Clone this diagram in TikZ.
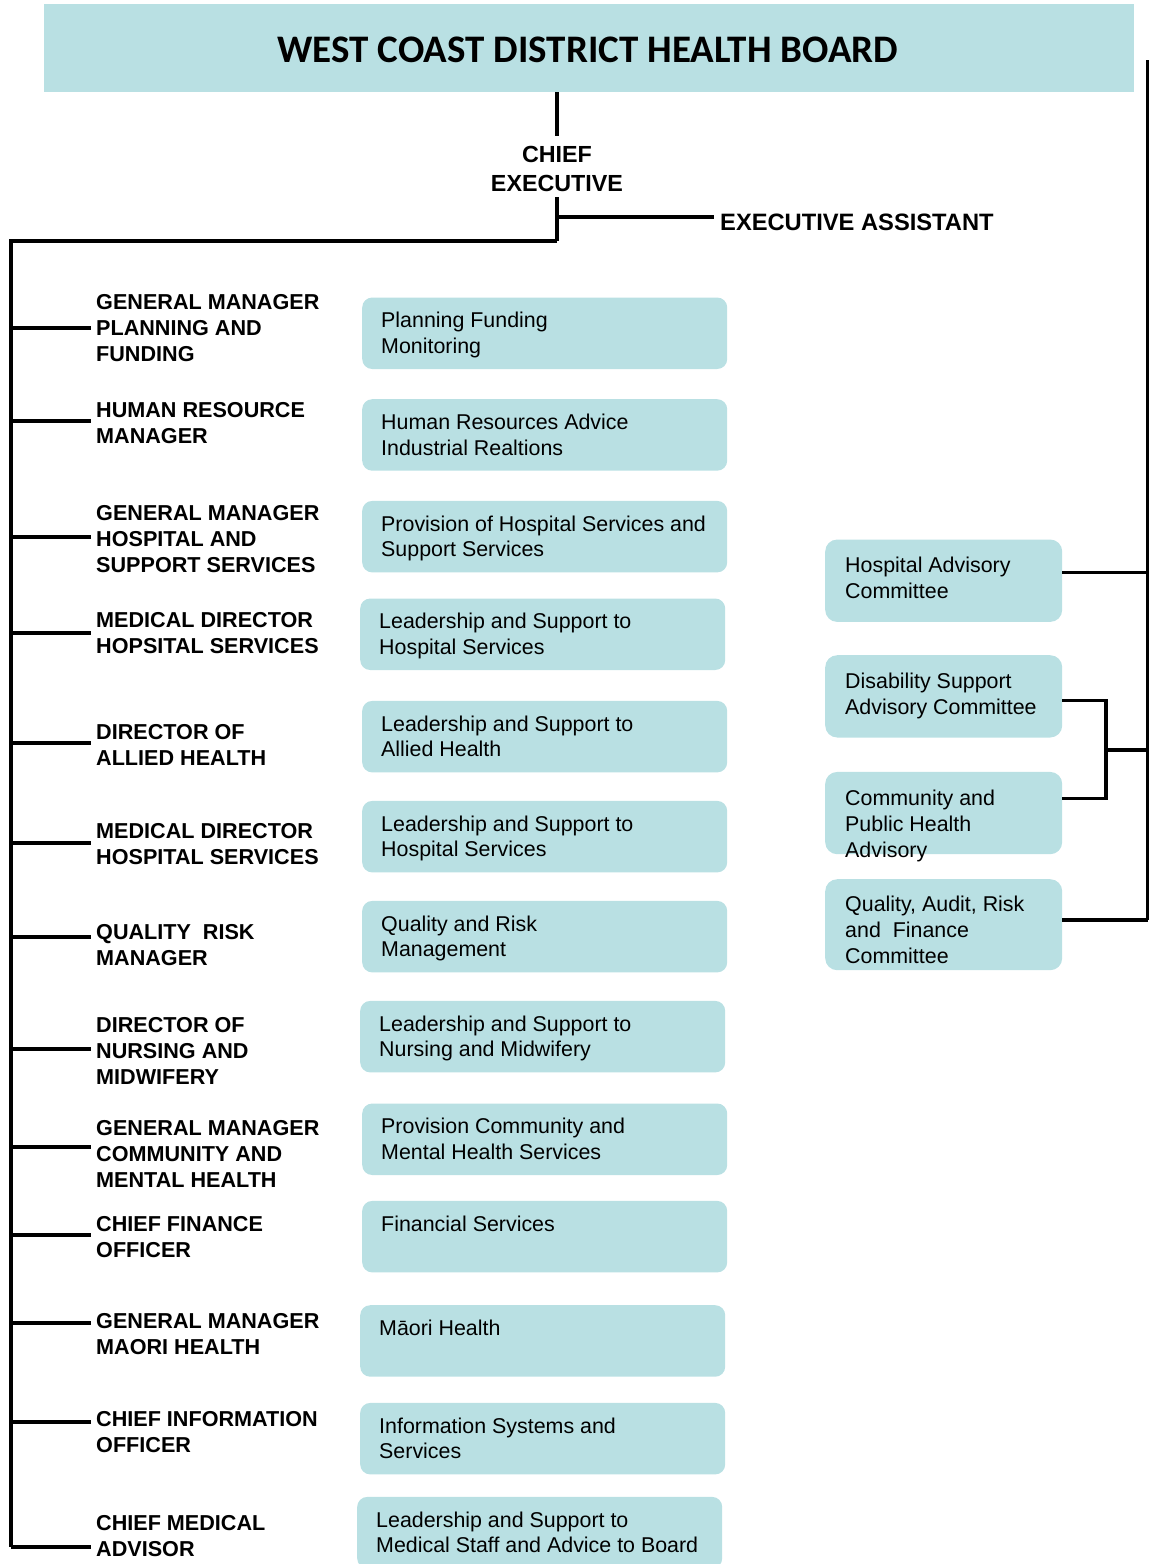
\documentclass[tikz,border=0pt]{standalone}
\usepackage{fontspec}
\setmainfont{Liberation Sans}
\newfontfamily\titlefont{Carlito}
\definecolor{boxfill}{RGB}{185,224,227}
\newcommand\ml[1]{\begin{tabular}[t]{@{}l@{}}#1\end{tabular}}
\newcommand\mlc[1]{\begin{tabular}[t]{@{}c@{}}#1\end{tabular}}
\tikzset{
  svc/.style={fill=boxfill, rounded corners=10pt, inner sep=0pt, anchor=north west,
    minimum width=365pt, minimum height=71.5pt},
  com/.style={fill=boxfill, rounded corners=12pt, inner sep=0pt, anchor=north west,
    minimum width=237pt},
  svctext/.style={anchor=base west, inner sep=0pt, font=\fontsize{21.4}{25.5}\selectfont},
  comtext/.style={anchor=base west, inner sep=0pt, font=\fontsize{21.4}{26}\selectfont},
  lbl/.style={anchor=base west, inner sep=0pt, font=\bfseries\fontsize{21.6}{26}\selectfont},
  wire/.style={line width=3.5pt},
  branch/.style={line width=4pt},
  cwire/.style={line width=3.5pt},
  rwire/.style={line width=2.3pt},
}
\newcommand\svcbox[4]{%
  \node[svc] (#1) at (#2,#3) {};
  \node[svctext] (#1t) at ([xshift=19pt,yshift=-30.5pt]#1.north west) {\ml{#4}};}
\newcommand\role[4]{%
  \coordinate (#1b) at (91,#3);
  \draw[branch] (trunkTop |- #1b) -- (#1b);
  \node[lbl] (#1) at (96,#2) {\ml{#4}};}
\begin{document}
\begin{tikzpicture}[x=1pt,y=-1pt]
\useasboundingbox (0,0) rectangle (1149,1564);
% board
\node[fill=boxfill, anchor=north west, inner sep=0pt, minimum width=1090pt, minimum height=88pt] (board) at (44,4) {};
\node[anchor=base, inner sep=0pt, font=\titlefont\bfseries\fontsize{39}{44}\selectfont] (title) at (588,62) {WEST COAST DISTRICT HEALTH BOARD};
% chief executive
\node[anchor=base, inner sep=0pt, font=\bfseries\fontsize{23.3}{29}\selectfont] (ce) at (557,162.7) {\mlc{CHIEF\\EXECUTIVE}};
\node[anchor=base west, inner sep=0pt, font=\bfseries\fontsize{23.7}{27}\selectfont] (ea) at (720,230) {EXECUTIVE ASSISTANT};
\coordinate (ceTop) at (557,136);
\coordinate (ceBot) at (557,197);
\coordinate (eaJ) at (557,216.5);
\coordinate (hub) at (557,241);
\coordinate (trunkTop) at (11,241);
\coordinate (trunkBot) at (11,1546.7);
\draw[wire] (board.south -| ceTop) -- (ceTop);
\draw[wire] (ceBot) -- (hub);
\draw[branch] (eaJ) -- ([xshift=-6pt]ea.west |- eaJ);
\draw[wire] (hub) -- (trunkTop) -- (trunkBot);
% roles
\role{r1}{309.3}{328}{GENERAL MANAGER\\PLANNING AND\\FUNDING}
\role{r2}{417.7}{420.7}{HUMAN RESOURCE\\MANAGER}
\role{r3}{520}{536.7}{GENERAL MANAGER\\HOSPITAL AND\\SUPPORT SERVICES}
\role{r4}{627.7}{632.7}{MEDICAL DIRECTOR\\HOPSITAL SERVICES}
\role{r5}{739}{743}{DIRECTOR OF\\ALLIED HEALTH}
\role{r6}{838.3}{842.7}{MEDICAL DIRECTOR\\HOSPITAL SERVICES}
\role{r7}{939}{936.7}{QUALITY\ \ RISK\\MANAGER}
\role{r8}{1032.3}{1049}{DIRECTOR OF\\NURSING AND\\MIDWIFERY}
\role{r9}{1135.7}{1146.7}{GENERAL MANAGER\\COMMUNITY AND\\MENTAL HEALTH}
\role{r10}{1231.7}{1235}{CHIEF FINANCE\\OFFICER}
\role{r11}{1328}{1322.7}{GENERAL MANAGER\\MAORI HEALTH}
\role{r12}{1426.7}{1421.7}{CHIEF INFORMATION\\OFFICER}
\role{r13}{1530}{1546.7}{CHIEF MEDICAL\\ADVISOR}
% services
\svcbox{s1}{362}{297.3}{Planning Funding\\Monitoring}
\svcbox{s2}{362}{399}{Human Resources Advice\\Industrial Realtions}
\svcbox{s3}{362}{500.7}{Provision of Hospital Services and\\Support Services}
\svcbox{s4}{360}{598.3}{Leadership and Support to\\Hospital Services}
\svcbox{s5}{362}{700.7}{Leadership and Support to\\Allied Health}
\svcbox{s6}{362}{800.7}{Leadership and Support to\\Hospital Services}
\svcbox{s7}{362}{900.7}{Quality and Risk\\Management}
\svcbox{s8}{360}{1000.7}{Leadership and Support to\\Nursing and Midwifery}
\svcbox{s9}{362}{1103.3}{Provision Community and\\Mental Health Services}
\svcbox{s10}{362}{1200.7}{Financial Services}
\svcbox{s11}{360}{1305}{Māori Health}
\svcbox{s12}{360}{1402.7}{Information Systems and\\Services}
\svcbox{s13}{357}{1496.7}{Leadership and Support to\\Medical Staff and Advice to Board}
% committees
\node[com, minimum height=82.4pt] (hac) at (825,539.3) {};
\node[com, minimum height=82.3pt] (dsac) at (825,655) {};
\node[com, minimum height=82.3pt] (cpha) at (825,771.7) {};
\node[com, minimum height=91pt] (qarf) at (825,879) {};
\node[comtext] (hact) at ([xshift=20pt,yshift=-33pt]hac.north west) {\ml{Hospital Advisory\\Committee}};
\node[comtext] (dsact) at ([xshift=20pt,yshift=-33pt]dsac.north west) {\ml{Disability Support\\Advisory Committee}};
\node[comtext] (cphat) at ([xshift=20pt,yshift=-34pt]cpha.north west) {\ml{Community and\\Public Health\\Advisory}};
\node[comtext] (qarft) at ([xshift=20pt,yshift=-32.7pt]qarf.north west) {\ml{Quality, Audit, Risk\\and\ \ Finance\\Committee}};
\coordinate (rTop) at (1147.5,60);
\coordinate (hacJ) at (1147.5,572.3);
\coordinate (dsJ) at (1106,700.3);
\coordinate (cpJ) at (1106,798.3);
\coordinate (brk) at (1106,750);
\coordinate (qJ) at (1147.5,920);
\draw[rwire] (rTop) -- (qJ);
\draw[cwire] (hacJ -| hac.east) -- (hacJ);
\draw[cwire] (dsJ -| dsac.east) -- (dsJ) -- (cpJ) -- (cpJ -| cpha.east);
\draw[cwire] (brk) -- (brk -| rTop);
\draw[cwire] (qJ -| qarf.east) -- (qJ);
\end{tikzpicture}
\end{document}
